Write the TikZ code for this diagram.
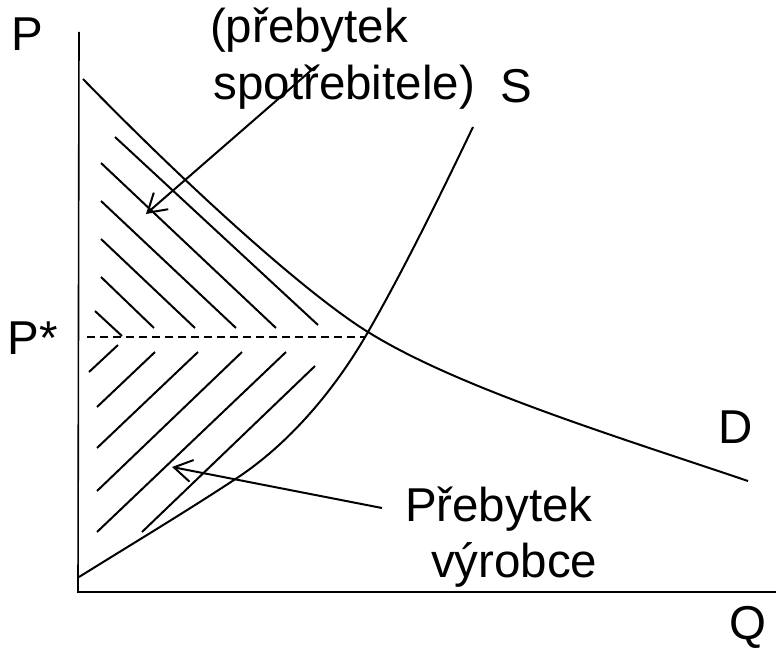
\documentclass[tikz,border=0pt]{standalone}
\usepackage{fontspec}
\setmainfont{Liberation Sans}
\usetikzlibrary{arrows.meta}
\begin{document}
\begin{tikzpicture}[x=1pt,y=-1pt,
  lbl/.style={anchor=base west,inner sep=0pt,outer sep=0pt,font=\fontsize{47.5}{57}\selectfont},
  axisline/.style={line width=1.6pt},
  curve/.style={line width=2pt},
  hatch/.style={line width=2pt},
  eqline/.style={line width=1.5pt,dash pattern=on 8pt off 5pt},
  callout/.style={line width=2pt,-{Straight Barb[length=18pt,width=22pt,line width=2pt]}}]
\useasboundingbox (0,0) rectangle (776,650);
% axes
\coordinate (ytop) at (79,32);
\coordinate (orig) at (78,592);
\coordinate (xend) at (776,592);
\draw[axisline] (ytop) -- (orig) -- (xend);
% labels
\node[lbl] (P) at (11,51) {P};
\node[lbl] (Pstar) at (8,354) {P*};
\node[lbl] (cs1) at (210,43) {(přebytek};
\node[lbl] (cs2) at (213.5,100) {spotřebitele)};
\node[lbl] (S) at (500,103) {S};
\node[lbl] (D) at (718,443) {D};
\node[lbl] (ps1) at (405,521) {Přebytek};
\node[lbl] (ps2) at (431,577) {výrobce};
\node[lbl] (Q) at (729.5,639) {Q};
% equilibrium
\coordinate (E) at (368,332);
\coordinate (dstart) at (87,337);
\draw[eqline] (dstart) -- (365,337);
% demand
\coordinate (dA) at (83,79);
\coordinate (dB) at (748,481);
\draw[curve] (dA) .. controls (193,192) and (308,295) .. (E)
                  .. controls (458,388) and (618,437) .. (dB);
% supply
\coordinate (sA) at (79,577);
\coordinate (sB) at (473,127);
\draw[curve] (sA) .. controls (132,544) and (187,511) .. (237,478)
                  .. controls (287,445) and (333,393) .. (E)
                  .. controls (403,271) and (438,200) .. (sB);
% consumer surplus hatching
\draw[hatch] (115,137) -- (318,325);
\draw[hatch] (101,163) -- (276,328);
\draw[hatch] (101,201) -- (236,328);
\draw[hatch] (101,239) -- (195,328);
\draw[hatch] (101,277) -- (154,328);
\draw[hatch] (95,311) -- (122,336);
% producer surplus hatching
\draw[hatch] (89,372) -- (118,345);
\draw[hatch] (97,407) -- (155,352);
\draw[hatch] (97,448) -- (198,352);
\draw[hatch] (97,491) -- (242,352);
\draw[hatch] (97,532) -- (286,352);
\draw[hatch] (142,532) -- (315,366);
% callout arrows
\coordinate (csTail) at (315,67);
\coordinate (csTip) at (146,214);
\coordinate (psTail) at (382,508);
\coordinate (psTip) at (172,467);
\draw[callout] (csTail) -- (csTip);
\draw[callout] (psTail) -- (psTip);
\end{tikzpicture}
\end{document}
